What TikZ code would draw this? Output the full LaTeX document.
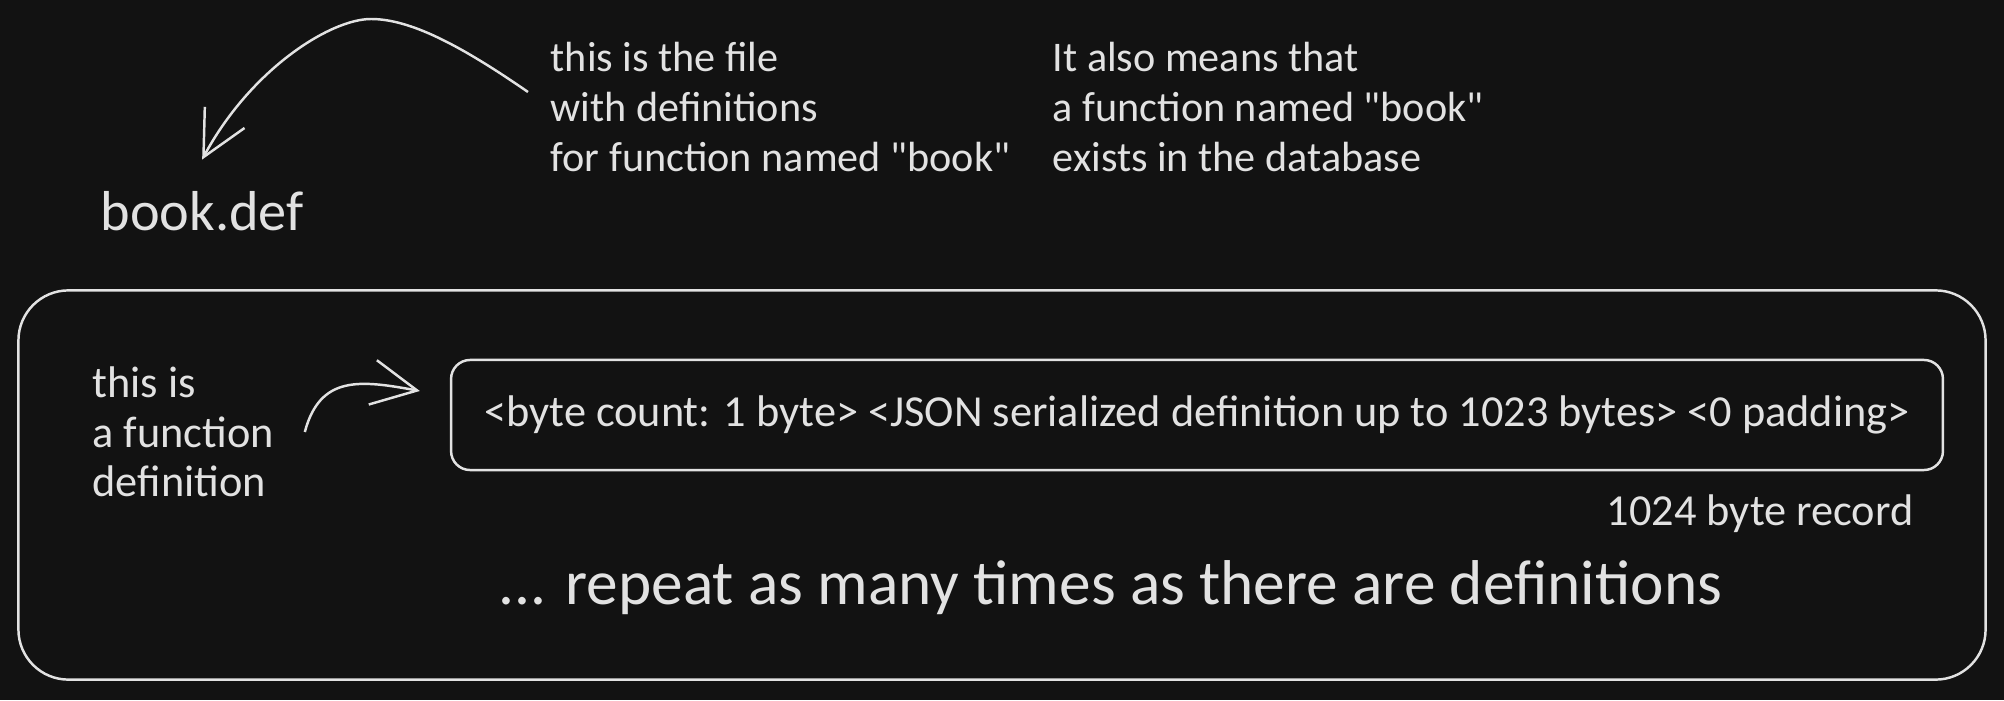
\documentclass[tikz,border=0pt]{standalone}
\usepackage{fontspec}
\setmainfont{Carlito}
\usepackage{tikz}
\usetikzlibrary{calc}
\usetikzlibrary{arrows.meta}
\definecolor{bg}{HTML}{121212}
\definecolor{ink}{HTML}{E2E2E2}
\newcommand{\smallhand}{\fontsize{12.6}{14.1}\selectfont}
\newcommand{\tophand}{\fontsize{12}{14.1}\selectfont}
\newcommand{\bighand}{\fontsize{16}{20}\selectfont}
\newcommand{\hugehand}{\fontsize{18}{22}\selectfont}
\tikzstyle{note} = [text=ink, font=\smallhand, align=left, inner sep=0pt]
\tikzstyle{topnote} = [note, font=\tophand]
\tikzstyle{big} = [text=ink, font=\bighand, inner sep=0pt]
\tikzstyle{arrow} = [draw=ink, line width=0.7pt, -{Straight Barb[length=4.5mm,width=4.5mm]}]
\tikzstyle{frame} = [draw=ink, line width=0.7pt]

\begin{document}
\begin{tikzpicture}[x=0.01cm, y=-0.01cm]
    \fill[bg] (0,0) rectangle (2004,700);

    % the file and its notes
    \node[big, anchor=west] (bookdef) at (100,211) {book.def};
    \node[topnote, anchor=west] (filenote) at (550,107) {this is the file\\with definitions\\for function named \textquotedbl book\textquotedbl};
    \node[topnote, anchor=west] (dbnote) at (1052,107) {It also means that\\a function named \textquotedbl book\textquotedbl\\exists in the database};
    \draw[arrow] ([xshift=-0.22cm,yshift=0.15cm]filenote.west) .. controls (460,45) and (410,19) .. (371,19)
        .. controls (330,19) and (250,70) .. ([yshift=0.31cm]bookdef.north);

    % one record after the other
    \node[frame, rounded corners=0.5cm, minimum width=19.66cm, minimum height=3.89cm] (records) at (1002,485) {};
    \node[frame, rounded corners=0.19cm, minimum width=14.91cm, minimum height=1.1cm, text=ink, font=\smallhand] (entry) at (1197,415)
        {<byte count: 1 byte> <JSON serialized definition up to 1023 bytes> <0 padding>};
    \node[note, anchor=west] (deflabel) at (92,432) {this is\\a function\\definition};
    \draw[arrow] ([xshift=0.3cm]deflabel.east) .. controls (320,375) and (360,380) .. ([xshift=-0.3cm,yshift=0.24cm]entry.west);
    \node[note, anchor=east] (size) at (1914,514) {1024 byte record};
    \node[text=ink, font=\hugehand, inner sep=0pt, anchor=west] (repeat) at (498,588) {... repeat as many times as there are definitions};

\end{tikzpicture}
\end{document}
